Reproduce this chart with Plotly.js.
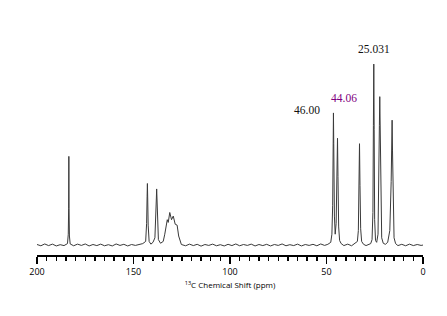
<!DOCTYPE html>
<html>
<head>
<meta charset="utf-8">
<script src="https://cdn.plot.ly/plotly-3.0.1.min.js"></script>
<style>html,body{margin:0;padding:0;background:#fff;}#chart{width:447px;height:316px;}</style>
</head>
<body>
<div id="chart"></div>
<script>
// Chemical shift (ppm)
const shiftPpm = [
  200, 198, 196, 194, 192, 190, 188, 186, 184.2, 183.8, 183.6, 183.52, 183.5, 183.48, 183.4, 183.2, 182.8,
  181, 179, 177, 175, 173, 171, 169, 167, 165, 163, 161, 159, 157, 155, 153, 151, 149, 147, 145.2,
  143.7, 143.2, 142.95, 142.8, 142.65, 142.4, 141.9, 141.0,
  139.9, 138.9, 138.4, 138.15, 138.0, 137.85, 137.6, 137.1, 136.0,
  134.6, 133.8, 133.1, 132.5, 132.0, 131.2, 130.3, 129.4, 128.4, 127.4, 126.6, 125.9, 125.2,
  123, 121, 119, 117, 115, 113, 111, 109, 107, 105, 103, 101, 99, 97, 95, 93, 91, 89, 87, 85, 83, 81,
  79, 77, 75, 73, 71, 69, 67, 65, 63, 61, 59, 57, 55, 53, 51, 49.3,
  47.8, 47.2, 46.8, 46.55, 46.4, 46.25, 45.9, 45.5, 45.0, 44.55, 44.3, 44.05, 43.7, 43.2, 42.4,
  41, 39, 37, 35.2,
  34.0, 33.5, 33.15, 32.9, 32.65, 32.3, 31.8, 30.8, 29.5, 28, 27.1,
  26.4, 25.95, 25.7, 25.5, 25.3, 25.05, 24.6, 24.0, 23.3, 22.85, 22.6, 22.4, 22.2, 21.9, 21.4, 20.6,
  19.5, 18.3, 17.2, 16.5, 16.2, 16.0, 15.8, 15.5, 15.0, 14.2,
  13, 11, 9, 7, 5, 3, 1, 0
];
// Intensity (relative, tallest peak = 100)
const intensity = [
  0.3, -0.4, 0.6, -0.3, 0.5, -0.5, 0.2, -0.3, 0.8, 6, 20, 42, 49, 42, 20, 5, 0.6,
  -0.4, 0.5, -0.2, 0.6, -0.5, 0.3, -0.3, 0.5, -0.4, 0.2, -0.5, 0.6, -0.2, 0.4, -0.5, 0.3, -0.2, 0.5, 0.8,
  2, 12, 27, 34, 26, 11, 2, 0.5,
  1.5, 4, 14, 26, 31, 25, 12, 3, 1,
  2, 6, 11, 14, 12.5, 18, 14, 16, 11.5, 11, 5, 2, 0.3,
  -0.4, 0.5, -0.3, 0.4, -0.6, 0.3, -0.2, 0.5, -0.4, 0.2, -0.5, 0.4, -0.3, 0.6, -0.4, 0.3, -0.2, 0.5, -0.5, 0.3, -0.3, 0.4,
  -0.5, 0.3, -0.2, 0.6, -0.4, 0.2, -0.3, 0.5, -0.5, 0.3, -0.2, 0.4, -0.4, 0.6, -0.2, 0.4,
  1.5, 6, 22, 58, 73, 56, 16, 6, 12, 48, 59, 38, 10, 2.5, 0.8,
  -0.3, 0.5, -0.4, 0.8,
  2, 8, 32, 56, 33, 9, 2, 0.4, -0.3, 0.5, 0.8,
  3, 18, 66, 100, 64, 14, 2.5, 1.5, 6, 32, 66, 82, 58, 18, 4, 1,
  0.4, 1.5, 8, 35, 58, 69, 52, 18, 4, 0.8,
  -0.3, 0.4, -0.4, 0.5, -0.3, 0.3, -0.2, 0
];
// Axis ticks
const labelTickValues = [200, 150, 100, 50, 0];
const midTickValues = [175, 125, 75, 25];
// Peak labels
const peakLabels = ['46.00', '44.06', '25.031'];
const peakLabelX = [60.2, 40.7, 25.4];
const peakLabelY = [74.6, 81.2, 108.5];
const peakLabelColors = ['#111111', '#800080', '#111111'];

const trace = {
  x: shiftPpm,
  y: intensity,
  type: 'scatter',
  mode: 'lines',
  line: {color: '#3a3a3a', width: 1},
  hoverinfo: 'skip'
};

const annotations = peakLabels.map((t, i) => ({
  x: peakLabelX[i], y: peakLabelY[i], xref: 'x', yref: 'y',
  text: t, showarrow: false,
  font: {family: 'Liberation Serif, Times New Roman, serif', size: 11.5, color: peakLabelColors[i]},
  xanchor: 'center', yanchor: 'middle'
}));

const tickStyle = {ticks: 'outside', ticklen: 7, tickwidth: 1.5, tickcolor: '#000000'};

const layout = {
  width: 447, height: 316,
  margin: {l: 36.5, r: 24.3, t: 40, b: 61},
  paper_bgcolor: '#ffffff', plot_bgcolor: '#ffffff',
  showlegend: false,
  xaxis: Object.assign({
    range: [200, 0],
    showgrid: false, zeroline: false,
    showline: true, linecolor: '#000000', linewidth: 2,
    tickmode: 'array', tickvals: labelTickValues,
    minor: {dtick: 5, ticks: 'outside', ticklen: 4, tickwidth: 1.5, tickcolor: '#000000', showgrid: false},
    tickfont: {family: 'Open Sans, sans-serif', size: 9, color: '#000000'},
    title: {text: '<sup>13</sup>C Chemical Shift (ppm)', font: {family: 'Open Sans, sans-serif', size: 8, color: '#000000'}, standoff: 6}
  }, tickStyle),
  xaxis2: Object.assign({
    range: [200, 0], overlaying: 'x', anchor: 'y', side: 'bottom',
    showgrid: false, zeroline: false, showline: false,
    tickmode: 'array', tickvals: midTickValues, showticklabels: false
  }, tickStyle),
  yaxis: {
    range: [-5.5, 113.3],
    visible: false, showgrid: false, zeroline: false
  },
  annotations: annotations
};

Plotly.newPlot('chart', [trace], layout, {staticPlot: true, displayModeBar: false});
</script>
</body>
</html>
